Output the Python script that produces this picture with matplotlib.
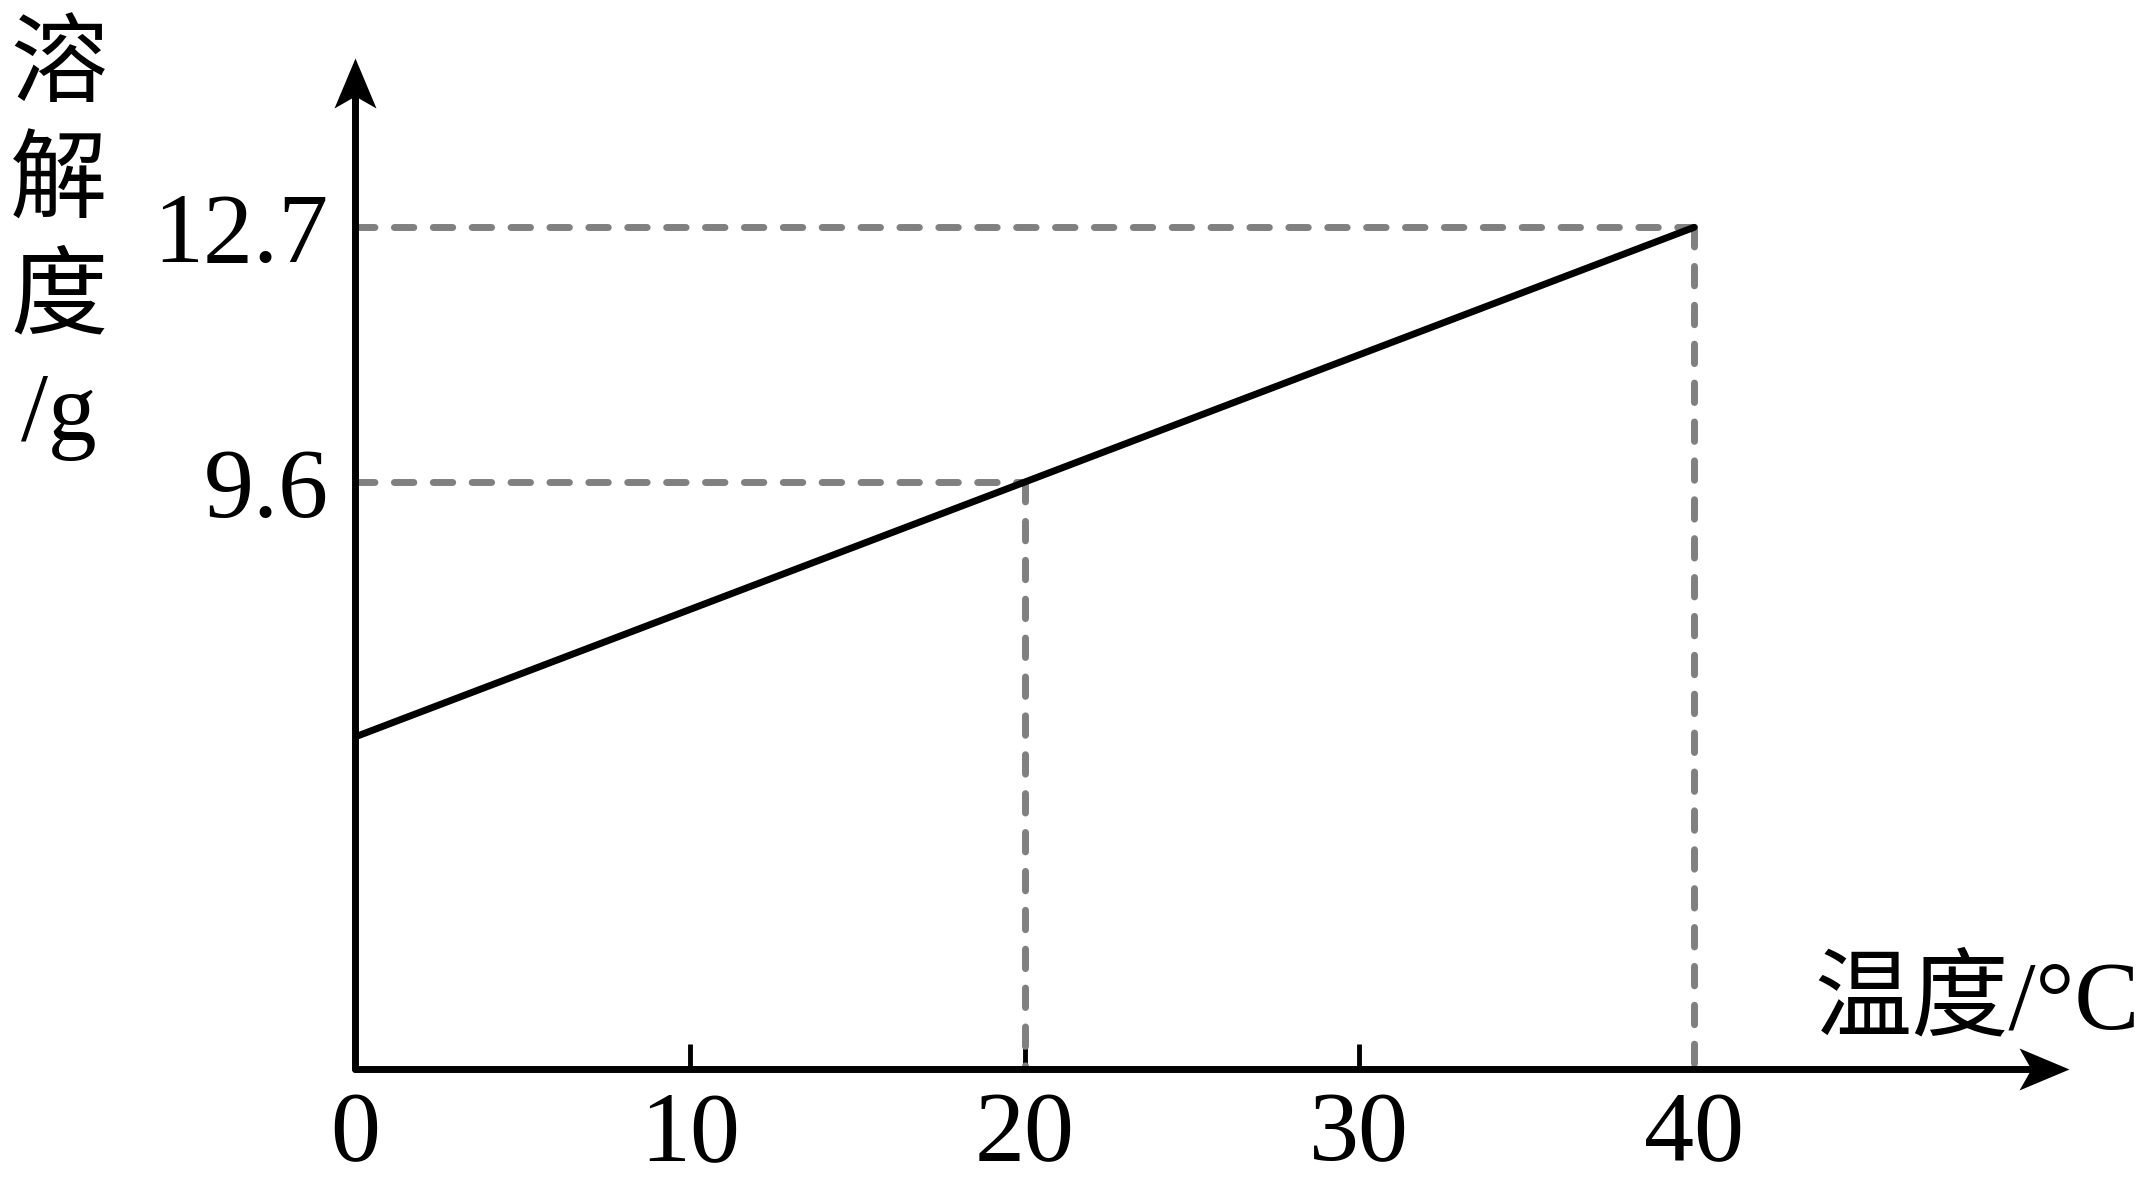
import matplotlib
matplotlib.use('Agg')
import matplotlib.pyplot as plt
from matplotlib.path import Path

# 数据
temps = [0, 20, 40]
solubility = [6.5, 9.6, 12.7]
x_ticks = [0, 10, 20, 30, 40]
mark_t = [20, 40]
mark_s = [9.6, 12.7]
y_tick_labels = ['9.6', '12.7']

plt.rcParams['font.family'] = ['Liberation Serif', 'Noto Sans CJK SC']

xmin, xmax = 0, 51.2
ymin, ymax = 2.46, 14.76

fig = plt.figure(figsize=(21.49, 11.79), dpi=100)
ax = fig.add_axes([0.1652, 0.0933, 0.7976, 0.8575])
ax.set_xlim(xmin, xmax)
ax.set_ylim(ymin, ymax)
for s in ax.spines.values():
    s.set_visible(False)

# 箭头形状（尖端在原点）
right_head = Path([(0, 0), (-1, 0.42), (-0.76, 0), (-1, -0.42), (0, 0)],
                  [Path.MOVETO, Path.LINETO, Path.LINETO, Path.LINETO, Path.CLOSEPOLY])
up_head = Path([(0, 0), (0.42, -1), (0, -0.76), (-0.42, -1), (0, 0)],
               [Path.MOVETO, Path.LINETO, Path.LINETO, Path.LINETO, Path.CLOSEPOLY])

# 坐标轴
lw = 5
ax.plot([xmin, xmax - 1.0], [ymin, ymin], color='k', lw=lw, clip_on=False,
        solid_capstyle='round', zorder=5)
ax.plot([0, 0], [ymin, ymax - 0.4], color='k', lw=lw, clip_on=False,
        solid_capstyle='round', zorder=5)
ax.plot([xmax], [ymin], marker=right_head, markersize=72, color='k', mew=0,
        clip_on=False, zorder=6)
ax.plot([0], [ymax], marker=up_head, markersize=72, color='k', mew=0,
        clip_on=False, zorder=6)

# 虚线
for t, s in zip(mark_t, mark_s):
    ax.plot([0, t], [s, s], color='#808080', lw=lw, linestyle=(0, (2.8, 2.8)),
            dash_capstyle='round', zorder=2)
    ax.plot([t, t], [s, ymin], color='#808080', lw=lw, linestyle=(0, (2.8, 2.8)),
            dash_capstyle='round', zorder=2)

# 溶解度曲线
ax.plot(temps, solubility, color='k', lw=lw, solid_capstyle='round', zorder=3)

# 刻度
ax.set_xticks(x_ticks)
ax.set_xticklabels([str(v) for v in x_ticks])
ax.tick_params(axis='x', direction='in', length=18, width=3.5, pad=16, labelsize=72)
ax.set_yticks(mark_s)
ax.set_yticklabels(y_tick_labels)
ax.tick_params(axis='y', length=0, pad=19, labelsize=72)

# 轴标签
fig.text(59 / 2149, 1 - 25 / 1179, '溶\n解\n度\n/g', ha='center', va='top',
         fontsize=70, linespacing=1.38, multialignment='center')
fig.text(2140 / 2149, 1 - 1049 / 1179, '温度/°C', ha='right', va='bottom', fontsize=70)

fig.savefig('out.png', dpi=100)
